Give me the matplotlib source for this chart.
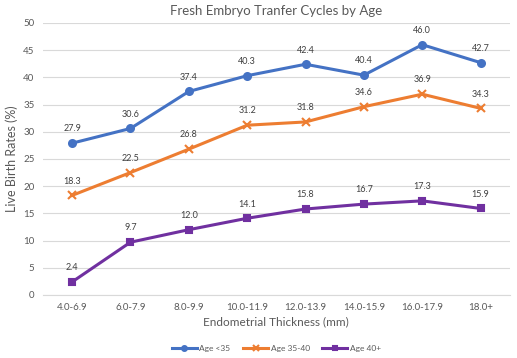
import matplotlib.pyplot as plt

#---- Data
categories = ['4.0-6.9', '6.0-7.9', '8.0-9.9', '10.0-11.9', '12.0-13.9', '14.0-15.9', '16.0-17.9', '18.0+']
age_lt35 = [27.9, 30.6, 37.4, 40.3, 42.4, 40.4, 46.0, 42.7]
age_35_40 = [18.3, 22.5, 26.8, 31.2, 31.8, 34.6, 36.9, 34.3]
age_40p = [2.4, 9.7, 12.0, 14.1, 15.8, 16.7, 17.3, 15.9]

plt.rcParams['font.family'] = ['Lato', 'DejaVu Sans']

fig = plt.figure(figsize=(5.17, 3.58), dpi=100)
ax = fig.add_axes([0.083, 0.176, 0.903, 0.76])

x = range(len(categories))
series = [
    (age_lt35, 'Age <35', '#4472C4', 'o', 5),
    (age_35_40, 'Age 35-40', '#ED7D31', 'x', 6),
    (age_40p, 'Age 40+', '#7030A0', 's', 5),
]
for vals, name, col, mk, ms in series:
    ax.plot(x, vals, color=col, lw=2.2, marker=mk, markersize=ms, mew=1.5, label=name)
    for i, v in zip(x, vals):
        ax.annotate(f'{v:.1f}', (i, v), xytext=(0, 7), textcoords='offset points',
                    ha='center', va='bottom', fontsize=6.5, color='#404040')

ax.set_xlim(-0.5, len(categories) - 0.5)
ax.set_ylim(0, 50)
ax.set_yticks(range(0, 51, 5))
ax.set_xticks(list(x))
ax.set_xticklabels(categories)
ax.grid(axis='y', color='#D9D9D9', lw=0.8)
ax.set_axisbelow(True)
for s in ['top', 'right', 'left']:
    ax.spines[s].set_visible(False)
ax.spines['bottom'].set_color('#D9D9D9')
ax.tick_params(length=0, labelsize=7, colors='#595959', pad=6)

ax.set_title('Fresh Embryo Tranfer Cycles by Age', fontsize=9.5, color='#595959', pad=6)
ax.set_xlabel('Endometrial Thickness (mm)', fontsize=8.5, color='#595959', labelpad=3)
ax.set_ylabel('Live Birth Rates (%)', fontsize=9, color='#595959', labelpad=4)

ax.legend(loc='center', bbox_to_anchor=(0.5, -0.195), ncol=3, frameon=False,
          fontsize=6, labelcolor='#595959', handlelength=3, columnspacing=1.5,
          markerscale=0.7, handletextpad=0.3)

fig.savefig('out.png', dpi=100)
